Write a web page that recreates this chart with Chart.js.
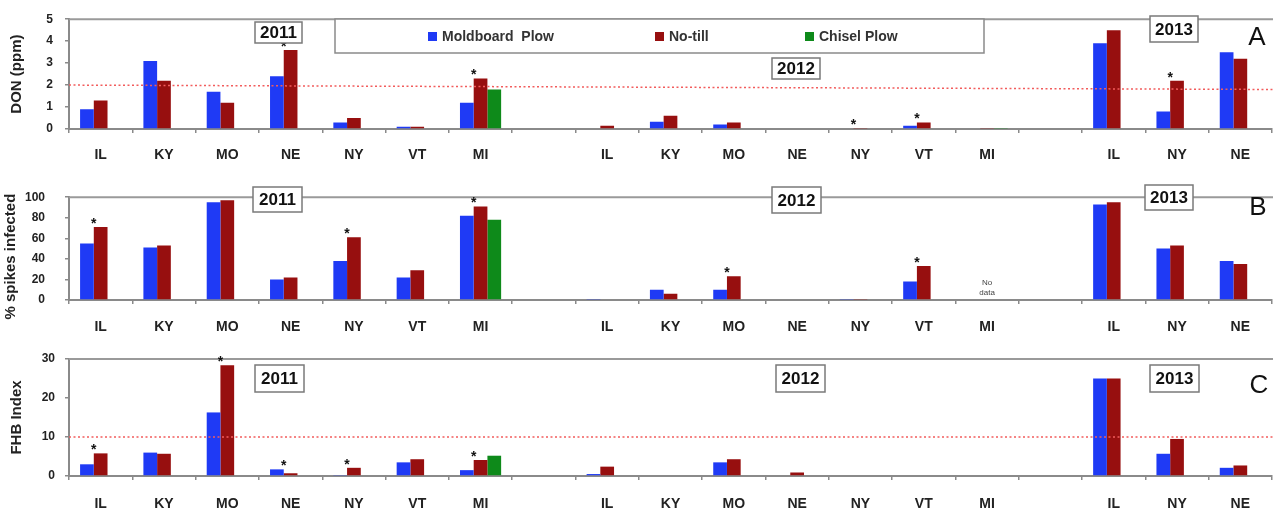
<!DOCTYPE html>
<html>
<head>
<meta charset="utf-8">
<script src="https://cdn.jsdelivr.net/npm/chart.js@4"></script>
<style>
html, body { margin: 0; padding: 0; background: #fff; }
#wrap { position: relative; width: 1273px; height: 519px; }
canvas { position: absolute; left: 0; }
</style>
</head>
<body>
<div id="wrap">
  <canvas id="panelA" width="1273" height="170" style="top:0px"></canvas>
  <canvas id="panelB" width="1273" height="170" style="top:170px"></canvas>
  <canvas id="panelC" width="1273" height="179" style="top:340px"></canvas>
</div>
<script>
// categories: 2011 states, gap, 2012 states, gap, 2013 states
const states = ["IL","KY","MO","NE","NY","VT","MI","","IL","KY","MO","NE","NY","VT","MI","","IL","NY","NE"];
const years = ["2011", "2012", "2013"];

const seriesNames = ["Moldboard  Plow", "No-till", "Chisel Plow"];
const seriesColors = ["#1f3af5", "#970f0f", "#0e8a1a"];

// A: DON (ppm)
const donMold   = [0.9, 3.1, 1.7, 2.4, 0.3, 0.1, 1.2, null, 0, 0.33, 0.2, 0, 0, 0.15, 0, null, 3.9, 0.8, 3.5];
const donNoTill = [1.3, 2.2, 1.2, 3.6, 0.5, 0.1, 2.3, null, 0.15, 0.6, 0.3, 0, 0.05, 0.3, 0.05, null, 4.5, 2.2, 3.2];
const donChisel = [null, null, null, null, null, null, 1.8, null, null, null, null, null, null, null, 0.05, null, null, null, null];
const donStars = [3, 6, 12, 13, 17];
const donLimit = [2.0, 1.8];

// B: % spikes infected
const spikesMold   = [55, 51, 95, 20, 38, 22, 82, null, 1, 10, 10, 0, 1, 18, null, null, 93, 50, 38];
const spikesNoTill = [71, 53, 97, 22, 61, 29, 91, null, 0, 6, 23, 0, 1, 33, null, null, 95, 53, 35];
const spikesChisel = [null, null, null, null, null, null, 78, null, null, null, null, null, null, null, null, null, null, null, null];
const spikesStars = [0, 4, 6, 10, 13];

// C: FHB index
const fhbMold   = [3.0, 6.0, 16.3, 1.7, 0.25, 3.5, 1.5, null, 0.5, 0, 3.5, 0, 0, 0, 0, null, 25, 5.7, 2.1];
const fhbNoTill = [5.8, 5.7, 28.4, 0.7, 2.1, 4.3, 4.1, null, 2.4, 0, 4.3, 0.9, 0, 0, 0, null, 25, 9.5, 2.7];
const fhbChisel = [null, null, null, null, null, null, 5.2, null, null, null, null, null, null, null, null, null, null, null, null];
const fhbStars = [0, 2, 3, 4, 6];
const fhbLimit = [10, 10];

const FONT = "'Liberation Sans', Arial, sans-serif";
Chart.defaults.font.family = FONT;

// frame line, limit line, stars, year boxes, letters, legend
const extras = {
  id: "extras",
  afterDatasetsDraw(chart, args, o) {
    const ctx = chart.ctx, area = chart.chartArea;
    const y = chart.scales.y, x = chart.scales.x;
    ctx.save();

    ctx.strokeStyle = "#9a9a9a";
    ctx.lineWidth = 2;
    ctx.beginPath();
    ctx.moveTo(area.left, area.top);
    ctx.lineTo(chart.width, area.top);
    ctx.stroke();

    if (o.limit) {
      ctx.strokeStyle = "#f25c5c";
      ctx.lineWidth = 1.5;
      ctx.setLineDash([2, 2.5]);
      ctx.beginPath();
      ctx.moveTo(area.left, y.getPixelForValue(o.limit[0]));
      ctx.lineTo(chart.width, y.getPixelForValue(o.limit[1]));
      ctx.stroke();
      ctx.setLineDash([]);
    }

    const m0 = chart.getDatasetMeta(0), m1 = chart.getDatasetMeta(1);
    ctx.fillStyle = "#111";
    ctx.font = "bold 14px " + FONT;
    ctx.textAlign = "center";
    ctx.textBaseline = "alphabetic";
    (o.stars || []).forEach(i => {
      const b0 = m0.data[i], b1 = m1.data[i];
      const top = Math.min(b0.y, b1.y);
      ctx.fillText("*", (b0.x + b1.x) / 2, top + 1);
    });

    (o.notes || []).forEach(n => {
      ctx.font = "8px " + FONT;
      ctx.fillStyle = "#444";
      const cx = x.getPixelForValue(n.index);
      ctx.fillText(n.lines[0], cx, area.bottom - 15);
      ctx.fillText(n.lines[1], cx, area.bottom - 5);
    });

    // year boxes
    (o.boxes || []).forEach((b, k) => {
      ctx.fillStyle = "#fff";
      ctx.fillRect(b[0], b[1], b[2], b[3]);
      ctx.strokeStyle = "#7a7a7a";
      ctx.lineWidth = 1.5;
      ctx.strokeRect(b[0], b[1], b[2], b[3]);
      ctx.fillStyle = "#111";
      ctx.font = "bold 17px " + FONT;
      ctx.textBaseline = "middle";
      ctx.fillText(years[k], b[0] + b[2] / 2, b[1] + b[3] / 2 + 1);
    });

    // panel letter
    ctx.font = "26px " + FONT;
    ctx.fillStyle = "#111";
    ctx.textBaseline = "alphabetic";
    ctx.fillText(o.letter[0], o.letter[1], o.letter[2]);

    // y title (drawn by hand so it is not squeezed)
    ctx.save();
    ctx.translate(o.title[1], (area.top + area.bottom) / 2 + o.title[2]);
    ctx.rotate(-Math.PI / 2);
    ctx.font = "bold 15px " + FONT;
    ctx.fillStyle = "#222";
    ctx.textBaseline = "middle";
    ctx.fillText(o.title[0], 0, 0);
    ctx.restore();

    if (o.legend) {
      const L = o.legend;
      ctx.fillStyle = "#fff";
      ctx.fillRect(L.box[0], L.box[1], L.box[2], L.box[3]);
      ctx.strokeStyle = "#8a8a8a";
      ctx.lineWidth = 1.5;
      ctx.strokeRect(L.box[0], L.box[1], L.box[2], L.box[3]);
      const cy = L.box[1] + L.box[3] / 2 + 1;
      ctx.font = "bold 14px " + FONT;
      ctx.textAlign = "left";
      ctx.textBaseline = "middle";
      chart.data.datasets.forEach((ds, k) => {
        ctx.fillStyle = ds.backgroundColor;
        ctx.fillRect(L.marks[k], cy - 5, 9, 9);
        ctx.fillStyle = "#333";
        ctx.fillText(ds.label, L.marks[k] + 14, cy);
      });
    }
    ctx.restore();
  }
};

function drawPanel(id, values, cfg) {
  return new Chart(document.getElementById(id), {
    type: "bar",
    data: {
      labels: states,
      datasets: values.map((v, k) => ({
        label: seriesNames[k],
        data: v,
        backgroundColor: seriesColors[k],
        borderWidth: 0
      }))
    },
    options: {
      responsive: false,
      animation: false,
      devicePixelRatio: 1,
      layout: { padding: { top: cfg.top, right: 1, left: 0, bottom: 0 } },
      datasets: { bar: { categoryPercentage: 0.65, barPercentage: 1 } },
      plugins: {
        legend: { display: false },
        tooltip: { enabled: false },
        extras: cfg.extras
      },
      scales: {
        x: {
          grid: { offset: true, drawOnChartArea: false, drawTicks: true, tickLength: 4, color: "#8a8a8a", lineWidth: 1.5 },
          border: { color: "#8a8a8a", width: 2 },
          ticks: { autoSkip: false, maxRotation: 0, padding: cfg.xPad, color: "#222", font: { weight: "bold", size: 14 } },
          afterFit: s => { s.height = cfg.xHeight; }
        },
        y: {
          min: 0,
          max: cfg.max,
          ticks: { stepSize: cfg.step, padding: cfg.yPad, color: "#222", font: { weight: "bold", size: 12 } },
          grid: { drawOnChartArea: false, tickLength: 4, color: "#8a8a8a", lineWidth: 1.5 },
          border: { color: "#8a8a8a", width: 2 },
          afterFit: s => { s.width = 69; }
        }
      }
    },
    plugins: [extras]
  });
}

drawPanel("panelA", [donMold, donNoTill, donChisel], {
  top: 15, xHeight: 41, xPad: 14, yPad: 12, max: 5, step: 1,
  extras: {
    limit: donLimit,
    stars: donStars,
    boxes: [[255, 22, 47, 21], [772, 58, 48, 21], [1150, 16, 48, 26]],
    letter: ["A", 1257, 45],
    title: ["DON (ppm)", 17, 0],
    legend: { box: [335, 19, 649, 34], marks: [428, 655, 805] }
  }
});

drawPanel("panelB", [spikesMold, spikesNoTill, spikesChisel], {
  top: 11, xHeight: 40, xPad: 15, yPad: 20, max: 100, step: 20,
  extras: {
    stars: spikesStars,
    notes: [{ index: 14, lines: ["No", "data"] }],
    boxes: [[253, 17, 49, 25], [772, 17, 49, 26], [1145, 15, 48, 25]],
    letter: ["B", 1258, 45],
    title: ["% spikes infected", 11, 8]
  }
});

drawPanel("panelC", [fhbMold, fhbNoTill, fhbChisel], {
  top: 19, xHeight: 43, xPad: 16, yPad: 10, max: 30, step: 10,
  extras: {
    limit: fhbLimit,
    stars: fhbStars,
    boxes: [[255, 25, 49, 27], [776, 25, 49, 27], [1150, 25, 49, 27]],
    letter: ["C", 1259, 53],
    title: ["FHB Index", 17, 0]
  }
});
</script>
</body>
</html>
